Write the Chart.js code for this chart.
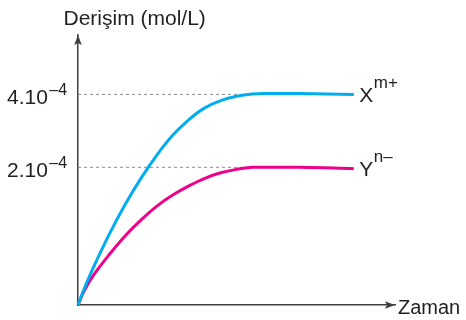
<!DOCTYPE html>
<html><head><meta charset="utf-8">
<script src="https://cdn.jsdelivr.net/npm/chart.js@4/dist/chart.umd.min.js"></script>
<style>html,body{margin:0;padding:0;background:#fff}canvas{display:block}</style>
</head><body>
<canvas id="c" width="466" height="320"></canvas>
<script>
// ---- data (time in arbitrary units, concentration in 10^-4 mol/L) ----
const times = [0, 0.2, 0.5, 1, 1.5, 2, 2.5, 3, 3.5, 4, 4.5, 5, 5.5, 6, 7, 8.7];
const concX = [0, 0.24, 0.56, 1.04, 1.47, 1.85, 2.35, 2.89, 3.31, 3.63, 3.83, 3.95, 4.01, 4.02, 4.02, 4.0];
const concY = [0, 0.21, 0.44, 0.74, 1.01, 1.24, 1.44, 1.6, 1.73, 1.84, 1.92, 1.97, 2.0, 2.0, 2.0, 1.98];
const seriesNames = ['X', 'Y'];
const seriesCharges = ['m+', 'n–'];
const tickValues = [2, 4];
const tickMantissa = ['2.10', '4.10'];
const tickExponent = ['–4', '–4'];
const axisTitleY = 'Derişim (mol/L)';
const axisTitleX = 'Zaman';
const guideEnd = 5.4;

// schematic (non-proportional) vertical axis: value -> fraction of axis height
const yKnots = [[0, 0], [2, 0.51], [4, 0.78], [5.5, 1]];

const FONT = '"Liberation Sans", Arial, Helvetica, sans-serif';
const TEXT = '#231f20';
const AXIS = '#404040';
const BLUE = '#00aeef';
const PINK = '#ec008c';
const GUIDE = '#8c8c8c';

class KnotScale extends Chart.LinearScale {
  _toFrac(v) {
    const k = yKnots;
    let i = 1;
    while (i < k.length - 1 && v > k[i][0]) i++;
    const [v0, f0] = k[i - 1], [v1, f1] = k[i];
    return f0 + (v - v0) * (f1 - f0) / (v1 - v0);
  }
  _fromFrac(f) {
    const k = yKnots;
    let i = 1;
    while (i < k.length - 1 && f > k[i][1]) i++;
    const [v0, f0] = k[i - 1], [v1, f1] = k[i];
    return v0 + (f - f0) * (v1 - v0) / (f1 - f0);
  }
  getPixelForValue(v) {
    if (v === null || v === undefined || isNaN(v)) return NaN;
    return this.getPixelForDecimal(this._toFrac(v));
  }
  getValueForPixel(p) { return this._fromFrac(this.getDecimalForPixel(p)); }
}
KnotScale.id = 'knot';
KnotScale.defaults = Chart.LinearScale.defaults;
Chart.register(KnotScale);

const toPts = (xs, ys) => xs.map((x, i) => ({x, y: ys[i]}));

const overlay = {
  id: 'overlay',
  afterDatasetsDraw(chart) {
    const {ctx, chartArea: a, scales: {y}} = chart;
    ctx.save();
    // arrowheads
    ctx.fillStyle = AXIS;
    ctx.beginPath();
    ctx.moveTo(a.left, a.top);
    ctx.lineTo(a.left - 3.8, a.top + 10);
    ctx.lineTo(a.left, a.top + 8);
    ctx.lineTo(a.left + 3.8, a.top + 10);
    ctx.closePath(); ctx.fill();
    ctx.beginPath();
    ctx.moveTo(a.right, a.bottom);
    ctx.lineTo(a.right - 10, a.bottom - 3.8);
    ctx.lineTo(a.right - 8, a.bottom);
    ctx.lineTo(a.right - 10, a.bottom + 3.8);
    ctx.closePath(); ctx.fill();

    ctx.fillStyle = TEXT;
    ctx.textAlign = 'left';
    ctx.textBaseline = 'alphabetic';
    ctx.font = '21px ' + FONT;
    ctx.fillText(axisTitleY, 63.5, 25);
    ctx.font = '20px ' + FONT;
    ctx.fillText(axisTitleX, a.right + 3, a.bottom + 9);

    tickValues.forEach((v, i) => {
      const py = y.getPixelForValue(v);
      ctx.font = '21px ' + FONT;
      const w = ctx.measureText(tickMantissa[i]).width;
      ctx.fillText(tickMantissa[i], 7, py + 9.2);
      ctx.font = '16px ' + FONT;
      ctx.fillText(tickExponent[i], 7 + w + 1.5, py + 0.8);
    });

    [0, 1].forEach(i => {
      const meta = chart.getDatasetMeta(i);
      const last = meta.data[meta.data.length - 1];
      const lx = last.x + 5.5, ly = last.y + 7.6;
      ctx.font = '21px ' + FONT;
      ctx.fillText(seriesNames[i], lx, ly);
      const w = ctx.measureText(seriesNames[i]).width;
      ctx.font = '17px ' + FONT;
      ctx.fillText(seriesCharges[i], lx + w + 0.5, ly - 14);
    });
    ctx.restore();
  }
};

new Chart(document.getElementById('c'), {
  type: 'line',
  data: {
    datasets: [
      {data: toPts(times, concX), borderColor: BLUE, borderWidth: 3, tension: 0.4, pointRadius: 0, clip: false},
      {data: toPts(times, concY), borderColor: PINK, borderWidth: 3, tension: 0.4, pointRadius: 0, clip: false},
      {data: [{x: 0, y: tickValues[1]}, {x: guideEnd, y: tickValues[1]}], borderColor: GUIDE, borderWidth: 1, borderDash: [3, 3], pointRadius: 0},
      {data: [{x: 0, y: tickValues[0]}, {x: guideEnd, y: tickValues[0]}], borderColor: GUIDE, borderWidth: 1, borderDash: [3, 3], pointRadius: 0}
    ]
  },
  options: {
    responsive: false,
    animation: false,
    devicePixelRatio: 1,
    layout: {padding: {left: 78, right: 71, top: 35, bottom: 15}},
    plugins: {legend: {display: false}, tooltip: {enabled: false}, title: {display: false}},
    scales: {
      x: {type: 'linear', min: 0, max: 10, grid: {display: false, drawTicks: false}, ticks: {display: false},
          border: {display: true, color: AXIS, width: 1.5}},
      y: {type: 'knot', min: 0, max: 5.5, grid: {display: false, drawTicks: false}, ticks: {display: false},
          border: {display: true, color: AXIS, width: 1.5}}
    }
  },
  plugins: [overlay]
});
</script>
</body></html>
